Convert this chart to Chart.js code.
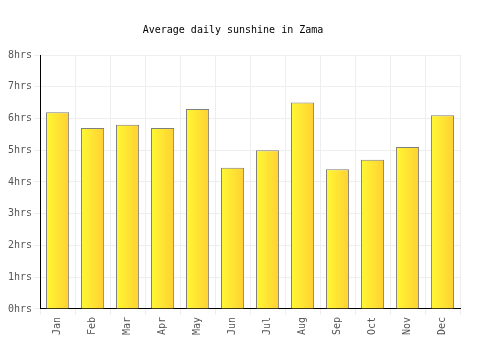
<!DOCTYPE html>
<html><head><meta charset="utf-8">
<script src="https://cdn.jsdelivr.net/npm/chart.js@4/dist/chart.umd.min.js"></script>
<style>html,body{margin:0;padding:0;background:#fff}#wrap{width:500px;height:350px}</style>
</head><body><div id="wrap"><canvas id="c" width="500" height="350"></canvas></div>
<script>
const months = ["Jan","Feb","Mar","Apr","May","Jun","Jul","Aug","Sep","Oct","Nov","Dec"];
const sunshine = [6.2, 5.7, 5.8, 5.7, 6.3, 4.45, 5.0, 6.5, 4.4, 4.7, 5.1, 6.1];
const yTicks = [0,1,2,3,4,5,6,7,8];
const titleText = "Average daily sunshine in Zama";
const FONT = "'DejaVu Sans Mono', monospace";
const BAR_PCT = 0.66;

function grad(ctx){
  const ch = ctx.chart; const ca = ch.chartArea;
  const xs = ch.scales && ch.scales.x;
  if(!ca || !xs) return '#ffe033';
  const cx = xs.getPixelForValue(ctx.dataIndex);
  const w = (ca.right - ca.left) / months.length * BAR_PCT;
  if(!isFinite(cx) || !isFinite(w)) return '#ffe033';
  const g = ch.ctx.createLinearGradient(cx - w/2, 0, cx + w/2, 0);
  g.addColorStop(0,'#fff833');
  g.addColorStop(1,'#ffd033');
  return g;
}

new Chart(document.getElementById('c'), {
  type:'bar',
  data:{labels:months, datasets:[{data:sunshine, backgroundColor:grad, borderColor:'#7f7f7f', borderWidth:1, barPercentage:BAR_PCT, categoryPercentage:1}]},
  options:{
    responsive:false, animation:false, devicePixelRatio:1,
    layout:{padding:{left:6,right:40,top:10,bottom:13}},
    plugins:{legend:{display:false}, tooltip:{enabled:false},
      title:{display:true, text:titleText, color:'#000', font:{family:FONT,size:10,weight:'normal'}, padding:{top:14,bottom:19}}},
    scales:{
      x:{grid:{color:'#eeeeee', offset:true, drawTicks:true, tickLength:6}, border:{color:'#000',width:1},
         ticks:{color:'#555', font:{family:FONT,size:10}, maxRotation:90, minRotation:90, padding:2}},
      y:{min:0,max:8, afterBuildTicks:(s)=>{s.ticks=yTicks.map(v=>({value:v}));},
         grid:{color:'#eeeeee', tickLength:6}, border:{color:'#000',width:1},
         ticks:{color:'#555', font:{family:FONT,size:10}, callback:(v)=>v+'hrs', padding:2}}
    }
  }
});
</script></body></html>
